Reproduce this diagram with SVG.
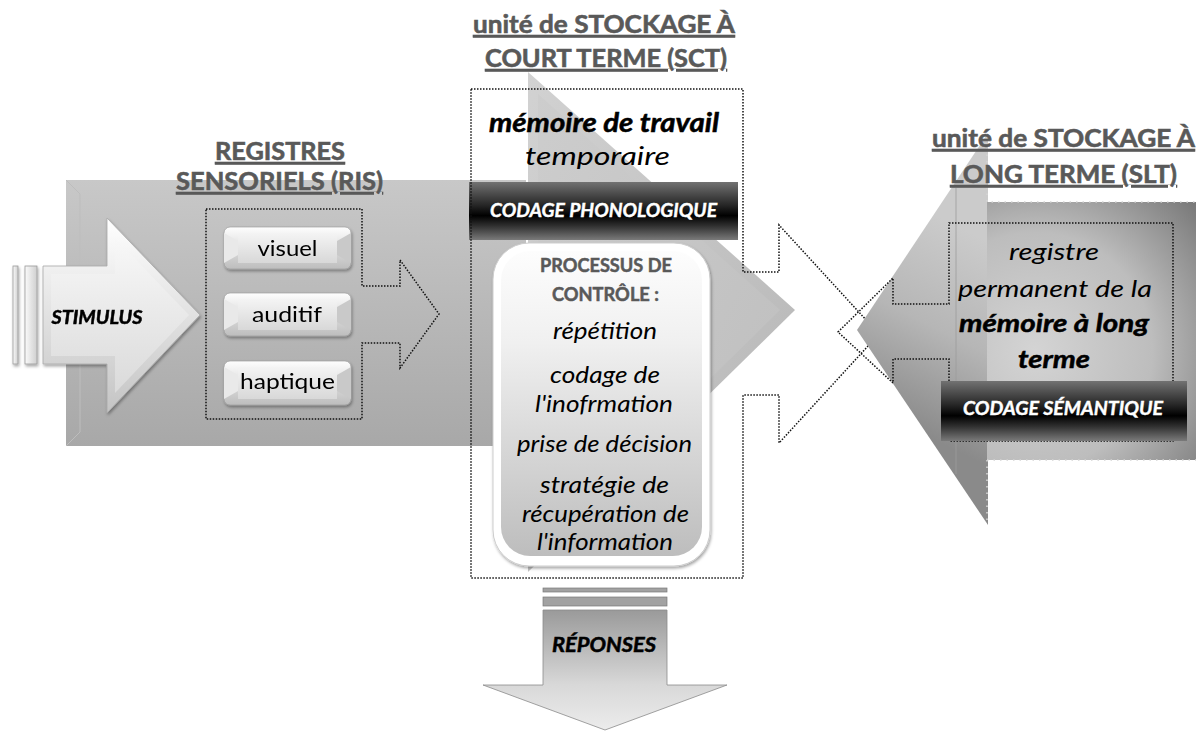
<svg xmlns="http://www.w3.org/2000/svg" width="1196" height="731" viewBox="0 0 1196 731">
<defs>
<linearGradient id="gRect" x1="0" y1="0" x2="0" y2="1"><stop offset="0" stop-color="#c8c8c8"/><stop offset="1" stop-color="#a8a8a8"/></linearGradient>
<linearGradient id="gTri" x1="0" y1="0" x2="1" y2="1"><stop offset="0" stop-color="#d2d2d2"/><stop offset="1" stop-color="#b4b4b4"/></linearGradient>
<linearGradient id="gTriIn" x1="0" y1="0" x2="1" y2="1"><stop offset="0" stop-color="#cdcdcd"/><stop offset="1" stop-color="#bdbdbd"/></linearGradient>
<linearGradient id="gBar" x1="0" y1="0" x2="0" y2="1"><stop offset="0" stop-color="#727272"/><stop offset="0.4" stop-color="#262626"/><stop offset="0.58" stop-color="#000"/><stop offset="0.75" stop-color="#2e2e2e"/><stop offset="1" stop-color="#7a7a7a"/></linearGradient>
<linearGradient id="gStimO" x1="0" y1="0" x2="0" y2="1"><stop offset="0" stop-color="#ffffff"/><stop offset="1" stop-color="#c4c4c4"/></linearGradient>
<linearGradient id="gStimI" x1="0" y1="0" x2="0" y2="1"><stop offset="0" stop-color="#f8f8f8"/><stop offset="1" stop-color="#dadada"/></linearGradient>
<linearGradient id="gBtnO" x1="0" y1="0" x2="0" y2="1"><stop offset="0" stop-color="#fefefe"/><stop offset="1" stop-color="#bdbdbd"/></linearGradient>
<linearGradient id="gBtnI" x1="0" y1="0" x2="0" y2="1"><stop offset="0" stop-color="#f4f4f4"/><stop offset="1" stop-color="#d8d8d8"/></linearGradient>
<linearGradient id="gProc" x1="0" y1="0" x2="0" y2="1"><stop offset="0" stop-color="#fdfdfd"/><stop offset="0.3" stop-color="#f0f0f0"/><stop offset="1" stop-color="#bdbdbd"/></linearGradient>
<linearGradient id="gHead" gradientUnits="userSpaceOnUse" x1="985" y1="240" x2="895" y2="420"><stop offset="0" stop-color="#cbcbcb"/><stop offset="0.5" stop-color="#b6b6b6"/><stop offset="1" stop-color="#8a8a8a"/></linearGradient>
<radialGradient id="gShaft" gradientUnits="userSpaceOnUse" cx="1035" cy="350" r="235"><stop offset="0" stop-color="#d4d4d4"/><stop offset="0.5" stop-color="#bdbdbd"/><stop offset="1" stop-color="#6c6c6c"/></radialGradient>
<linearGradient id="gResp" x1="0" y1="0" x2="0" y2="1"><stop offset="0" stop-color="#9a9a9a"/><stop offset="0.62" stop-color="#d8d8d8"/><stop offset="1" stop-color="#ececec"/></linearGradient>
<linearGradient id="gStripe" x1="0" y1="0" x2="1" y2="0"><stop offset="0" stop-color="#fafafa"/><stop offset="1" stop-color="#cfcfcf"/></linearGradient>
<filter id="sh" x="-15%" y="-15%" width="140%" height="140%"><feDropShadow dx="1" dy="2" stdDeviation="1.5" flood-color="#000" flood-opacity="0.35"/></filter>
</defs>
<style>
text{font-family:Lato,"Liberation Sans",sans-serif}
.title{font-weight:bold;font-size:25px;fill:#595959;stroke:#595959;stroke-width:0.6;text-decoration:underline}
.bi{font-weight:bold;font-style:italic;stroke:#000;stroke-width:0.5}
.it{font-style:italic}
.dot{fill:none;stroke:#111;stroke-width:1.5;stroke-dasharray:1.5 1.5}
.bar{fill:url(#gBar)}
.wbar{fill:#fff;stroke:#fff;stroke-width:0.4;font-weight:bold;font-style:italic;font-size:18.5px}
.body{font-size:24px;fill:#000}
.btn{font-size:21px;fill:#000}
.gray{font-size:18.5px;font-weight:bold;fill:#595959;stroke:#595959;stroke-width:0.5}
</style>
<rect width="1196" height="731" fill="#fff"/>

<!-- SCT big arrow head (background) -->
<g id="sct-back">
<polygon points="528,72 795,310 528,572" fill="url(#gTri)"/>
<polygon points="538,94 780,310 538,548" fill="url(#gTriIn)"/>
</g>

<!-- RIS body -->
<g id="ris-body">
<rect x="66" y="180" width="460" height="266" fill="url(#gRect)"/>
<path d="M80,194 V432 M66,180 L80,194 M66,446 L80,432" stroke="#bdbdbd" stroke-width="1" fill="none"/>
</g>

<!-- Titles -->
<g id="titles">
<text class="title" x="280" y="160" text-anchor="middle" textLength="130" lengthAdjust="spacingAndGlyphs">REGISTRES</text>
<text class="title" x="279.5" y="190" text-anchor="middle" textLength="207" lengthAdjust="spacingAndGlyphs">SENSORIELS (RIS)</text>
<text class="title" x="604" y="33" text-anchor="middle" textLength="262" lengthAdjust="spacingAndGlyphs">unité de STOCKAGE À</text>
<text class="title" x="606" y="67" text-anchor="middle" textLength="242" lengthAdjust="spacingAndGlyphs">COURT TERME (SCT)</text>
</g>

<!-- STIMULUS -->
<g id="stimulus" filter="url(#sh)">
<rect x="13" y="266" width="5" height="98" fill="url(#gStripe)" stroke="#9a9a9a" stroke-width="0.8"/>
<rect x="25" y="266" width="12" height="98" fill="url(#gStripe)" stroke="#9a9a9a" stroke-width="0.8"/>
<polygon points="43,266 107,266 107,218 200,315 107,413 107,364 43,364" fill="url(#gStimO)" stroke="#a8a8a8" stroke-width="0.8"/>
<polygon points="51,274 115,274 115,238 189,315 115,393 115,356 51,356" fill="url(#gStimI)"/>
<text class="bi" x="97" y="324" font-size="19" text-anchor="middle" textLength="91" lengthAdjust="spacingAndGlyphs">STIMULUS</text>
</g>

<!-- RIS registers -->
<g id="ris">
<path class="dot" d="M206,209 H362 V286 H400 V260 L439,314 L400,368 V343 H362 V419 H206 Z"/>
<g id="btn-visuel" filter="url(#sh)">
<rect x="224" y="227" width="127" height="42" rx="6" fill="url(#gBtnO)" stroke="#9e9e9e" stroke-width="0.7"/>
<polygon points="224,233 238,241 238,255 224,263" fill="#e9e9e9"/>
<polygon points="351,233 337,241 337,255 351,263" fill="#c9c9c9"/>
<rect x="238" y="233" width="99" height="30" fill="url(#gBtnI)"/>
<text class="btn" x="287.5" y="256" text-anchor="middle" textLength="60" lengthAdjust="spacingAndGlyphs">visuel</text>
</g>
<g id="btn-auditif" filter="url(#sh)">
<rect x="224" y="293" width="127" height="43" rx="6" fill="url(#gBtnO)" stroke="#9e9e9e" stroke-width="0.7"/>
<polygon points="224,299 238,307 238,322 224,330" fill="#e9e9e9"/>
<polygon points="351,299 337,307 337,322 351,330" fill="#c9c9c9"/>
<rect x="238" y="299" width="99" height="31" fill="url(#gBtnI)"/>
<text class="btn" x="287" y="322" text-anchor="middle" textLength="70" lengthAdjust="spacingAndGlyphs">auditif</text>
</g>
<g id="btn-haptique" filter="url(#sh)">
<rect x="224" y="361" width="127" height="44" rx="6" fill="url(#gBtnO)" stroke="#9e9e9e" stroke-width="0.7"/>
<polygon points="224,367 238,375 238,391 224,399" fill="#e9e9e9"/>
<polygon points="351,367 337,375 337,391 351,399" fill="#c9c9c9"/>
<rect x="238" y="367" width="99" height="32" fill="url(#gBtnI)"/>
<text class="btn" x="287.5" y="389" text-anchor="middle" textLength="95" lengthAdjust="spacingAndGlyphs">haptique</text>
</g>
</g>

<!-- SCT contents -->
<g id="sct">
<text class="bi" x="604" y="132" font-size="26" text-anchor="middle" textLength="230" lengthAdjust="spacingAndGlyphs">mémoire de travail</text>
<text class="it" x="597.5" y="165" font-size="26" text-anchor="middle" textLength="145" lengthAdjust="spacingAndGlyphs">temporaire</text>
<g id="codage-phono">
<rect class="bar" x="469" y="182" width="269" height="58"/>
<text class="wbar" x="603.5" y="217" text-anchor="middle" textLength="227" lengthAdjust="spacingAndGlyphs">CODAGE PHONOLOGIQUE</text>
</g>
<g id="processus">
<rect x="493" y="243" width="217" height="323" rx="36" fill="#fff" stroke="#cdcdcd" stroke-width="1" filter="url(#sh)"/>
<rect x="501" y="251" width="201" height="305" rx="29" fill="url(#gProc)"/>
<text class="gray" x="606" y="272" text-anchor="middle" textLength="132" lengthAdjust="spacingAndGlyphs">PROCESSUS DE</text>
<text class="gray" x="605.5" y="301" text-anchor="middle" textLength="107" lengthAdjust="spacingAndGlyphs">CONTRÔLE :</text>
<text class="it body" x="605" y="339" text-anchor="middle" textLength="104" lengthAdjust="spacingAndGlyphs">répétition</text>
<text class="it body" x="605" y="383" text-anchor="middle" textLength="110" lengthAdjust="spacingAndGlyphs">codage de</text>
<text class="it body" x="604" y="412" text-anchor="middle" textLength="138" lengthAdjust="spacingAndGlyphs">l'inofrmation</text>
<text class="it body" x="604.5" y="452" text-anchor="middle" textLength="175" lengthAdjust="spacingAndGlyphs">prise de décision</text>
<text class="it body" x="604.5" y="493" text-anchor="middle" textLength="129" lengthAdjust="spacingAndGlyphs">stratégie de</text>
<text class="it body" x="605.5" y="522" text-anchor="middle" textLength="167" lengthAdjust="spacingAndGlyphs">récupération de</text>
<text class="it body" x="605" y="550" text-anchor="middle" textLength="136" lengthAdjust="spacingAndGlyphs">l'information</text>
</g>
</g>

<!-- connectors: dotted outline arrows -->
<g id="connectors">
<path class="dot" d="M471,89 H743 V272 H779 V225 L879,334 L779,443 V395 H743 V578 H471 Z"/>
</g>

<!-- SLT -->
<g id="slt">
<polygon points="857,330 988,133 988,525" fill="url(#gHead)"/>
<rect x="987" y="202" width="209" height="258" fill="url(#gShaft)"/>
<line x1="956" y1="188" x2="956" y2="474" stroke="#9c9c9c" stroke-width="0.8"/>
<path d="M987,148 V202 H1196 M987,460 H1196 M987,460 V522" fill="none" stroke="#d4d4d4" stroke-width="1.6" stroke-dasharray="1.5 5"/>
<path class="dot" d="M949,223 H1173 V441 H949 V359 H893 V383 L838,332 L893,278 V304 H949 Z"/>
<text class="title" x="1063.5" y="147" text-anchor="middle" textLength="263" lengthAdjust="spacingAndGlyphs">unité de STOCKAGE À</text>
<text class="title" x="1063.5" y="183" text-anchor="middle" textLength="227" lengthAdjust="spacingAndGlyphs">LONG TERME (SLT)</text>
<text class="it body" x="1054" y="260" text-anchor="middle" textLength="90" lengthAdjust="spacingAndGlyphs">registre</text>
<text class="it body" x="1055" y="297" text-anchor="middle" textLength="194" lengthAdjust="spacingAndGlyphs">permanent de la</text>
<text class="bi body" x="1054" y="332" text-anchor="middle" textLength="190" lengthAdjust="spacingAndGlyphs">mémoire à long</text>
<text class="bi body" x="1054" y="368" text-anchor="middle" textLength="72" lengthAdjust="spacingAndGlyphs">terme</text>
<g id="codage-sem">
<rect class="bar" x="941" y="381" width="246" height="60"/>
<text class="wbar" x="1063" y="415" text-anchor="middle" textLength="200" lengthAdjust="spacingAndGlyphs">CODAGE SÉMANTIQUE</text>
</g>
</g>

<!-- RÉPONSES -->
<g id="reponses">
<rect x="543" y="588" width="124" height="4" fill="#a2a2a2" stroke="#7a7a7a" stroke-width="0.7"/>
<rect x="543" y="597" width="124" height="9" fill="#a2a2a2" stroke="#7a7a7a" stroke-width="0.7"/>
<path d="M543,610 H667 V685 H727 L605,730 L483,685 H543 Z" fill="url(#gResp)" stroke="#8a8a8a" stroke-width="0.8"/>
<text class="bi" x="604" y="652" font-size="20" text-anchor="middle" textLength="104" lengthAdjust="spacingAndGlyphs">RÉPONSES</text>
</g>
</svg>
